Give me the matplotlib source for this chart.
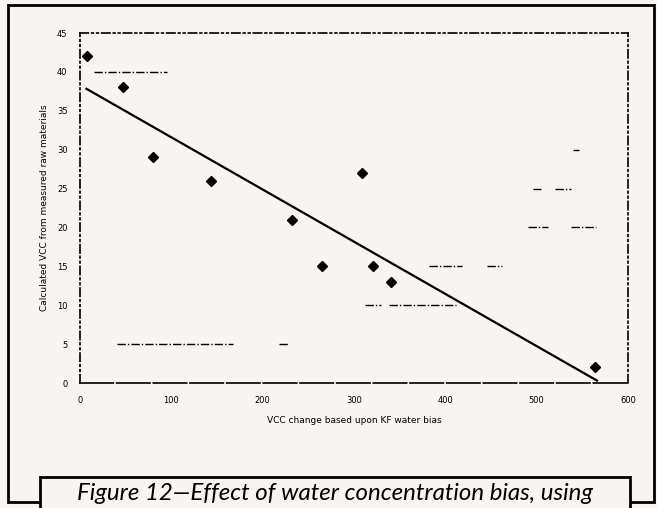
import numpy as np
import matplotlib.pyplot as plt
from matplotlib.patches import Rectangle

# VCC change (x) against VCC calculated from raw materials (y)
vcc_change = [8, 47, 80, 143, 232, 265, 309, 321, 341, 564]
vcc_calc = [42, 38, 29, 26, 21, 15, 27, 15, 13, 2]

x_ticks = [0, 100, 200, 300, 400, 500, 600]
y_ticks = [0, 5, 10, 15, 20, 25, 30, 35, 40, 45]

# leftover pieces of the grid: level, start, end
grid_y = [40, 5, 5, 10, 10, 15, 15, 20, 20, 25, 25, 30]
grid_x0 = [15, 40, 218, 312, 338, 382, 446, 490, 538, 496, 520, 540]
grid_x1 = [95, 168, 228, 330, 412, 418, 462, 512, 565, 505, 538, 546]

bg = '#f7f4f2'

fig = plt.figure(figsize=(6.57, 5.08), dpi=100, facecolor=bg)
ax = fig.add_axes([0.1218, 0.246, 0.834, 0.689], facecolor=bg)

# regression line through the points
coef = np.polyfit(vcc_change, vcc_calc, 1)
xs = np.array([min(vcc_change) - 1, max(vcc_change) + 2])
ax.plot(xs, np.polyval(coef, xs), color='black', lw=1.6, zorder=3)

ax.plot(vcc_change, vcc_calc, 'D', color='black', ms=5.5, zorder=4)

ax.hlines(grid_y, grid_x0, grid_x1, colors='black', lw=1.0,
          linestyles=[(0, (6, 1.5, 1, 1.5))])

ax.set_xlim(0, 600)
ax.set_ylim(0, 45)
ax.set_xticks(x_ticks)
ax.set_yticks(y_ticks)
ax.tick_params(length=0, labelsize=6, pad=9)

for name, sp in ax.spines.items():
    sp.set_linewidth(1.2)
    if name == 'bottom':
        sp.set_linestyle((0, (14, 1, 3, 1, 1, 2)))
    else:
        sp.set_linestyle((0, (5, 2, 1, 2, 1, 2)))

ax.set_xlabel('VCC change based upon KF water bias', fontsize=6.5, labelpad=8)
ax.set_ylabel('Calculated VCC from measured raw materials', fontsize=6.5, labelpad=6)

# page frame and caption box
fig.patches.append(Rectangle((8 / 657, 6 / 508), 646 / 657, 497 / 508,
                             transform=fig.transFigure, fill=False,
                             edgecolor='black', lw=2))
fig.patches.append(Rectangle((40 / 657, -0.05), 590 / 657, 0.05 + 31 / 508,
                             transform=fig.transFigure, facecolor=bg,
                             edgecolor='black', lw=2))
fig.text(335 / 657, 14 / 508, 'Figure 12\u2014Effect of water concentration bias, using',
         ha='center', va='center', fontsize=17.3, style='italic', family='Lato')

fig.savefig('out.png', dpi=100, facecolor=bg)
